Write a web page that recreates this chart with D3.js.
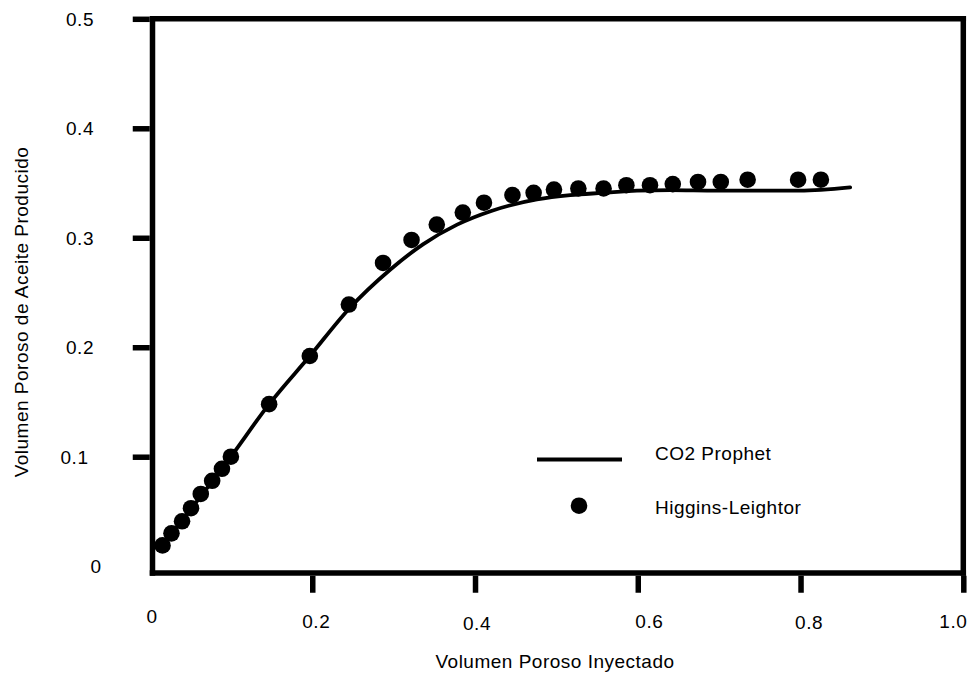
<!DOCTYPE html>
<html>
<head>
<meta charset="utf-8">
<script src="https://cdn.jsdelivr.net/npm/d3@7"></script>
<style>
  html, body { margin: 0; padding: 0; background: #fff; }
  text { font-family: "Liberation Sans", Arial, Helvetica, sans-serif; fill: #000; }
</style>
</head>
<body>
<svg id="chart" width="971" height="673"></svg>
<script>
// ---- data ----
const xTicks = [0, 0.2, 0.4, 0.6, 0.8, 1.0];
const xTickLabels = ["0", "0.2", "0.4", "0.6", "0.8", "1.0"];
const yTicks = [0, 0.1, 0.2, 0.3, 0.4, 0.5];
const yTickLabels = ["0", "0.1", "0.2", "0.3", "0.4", "0.5"];

// Higgins-Leighton (points)
const hlX = [0.016, 0.027, 0.040, 0.051, 0.063, 0.077, 0.089, 0.100, 0.147, 0.197,
             0.245, 0.287, 0.322, 0.353, 0.385, 0.411, 0.446, 0.472, 0.497, 0.527,
             0.558, 0.586, 0.615, 0.643, 0.674, 0.702, 0.735, 0.797, 0.825];
const hlY = [0.019, 0.030, 0.041, 0.053, 0.066, 0.078, 0.089, 0.100, 0.148, 0.192,
             0.239, 0.277, 0.298, 0.312, 0.323, 0.332, 0.339, 0.341, 0.344, 0.345,
             0.345, 0.348, 0.348, 0.349, 0.351, 0.351, 0.353, 0.353, 0.353];

// CO2 Prophet (line)
const cpX = [0.013, 0.100, 0.147, 0.197, 0.245, 0.296, 0.336, 0.378, 0.420, 0.476,
             0.517, 0.557, 0.599, 0.640, 0.697, 0.738, 0.799, 0.861];
const cpY = [0.016, 0.100, 0.148, 0.192, 0.235, 0.271, 0.294, 0.312, 0.3245, 0.335,
             0.339, 0.341, 0.343, 0.3435, 0.343, 0.343, 0.343, 0.346];

const seriesNames = ["CO2 Prophet", "Higgins-Leightor"];
const xTitle = "Volumen Poroso Inyectado";
const yTitle = "Volumen Poroso de Aceite Producido";

// ---- layout ----
const svg = d3.select("#chart");
const x = d3.scaleLinear().domain([0, 1]).range([149.5, 963.3]);
const y = d3.scaleLinear().domain([0, 0.5]).range([566.2, 18.8]);
const frameLeft = 152.5, frameBottom = 573;
const frameW = 5.5;
const tickLen = 17;
const fontSize = 19;
const letterSp = 0.5;
// small label nudges to mimic the original typesetting
const xLabelNudge = [2.5, 4, 2, 11.5, 8.5, -10];
const xLabelBase = [623, 628, 630, 628, 629, 628];
const yLabelNudge = [16, -5.5, 0, 0, 0, 0];

// frame
const frame = svg.append("g").attr("stroke", "#000").attr("stroke-width", frameW).attr("fill", "none");
frame.append("line").attr("x1", frameLeft).attr("x2", frameLeft).attr("y1", y(0.5) - frameW / 2).attr("y2", frameBottom + frameW / 2);
frame.append("line").attr("x1", frameLeft - frameW / 2).attr("x2", x(1) + frameW / 2).attr("y1", frameBottom).attr("y2", frameBottom);
frame.append("line").attr("x1", x(1)).attr("x2", x(1)).attr("y1", y(0.5) - frameW / 2).attr("y2", frameBottom + frameW / 2);
frame.append("line").attr("x1", frameLeft).attr("x2", x(1) + frameW / 2).attr("y1", y(0.5)).attr("y2", y(0.5));

// axes (ticks only)
const xAxis = d3.axisBottom(x).tickValues(xTicks.slice(1)).tickSize(tickLen).tickSizeOuter(0).tickFormat("");
const gx = svg.append("g").attr("transform", `translate(0,${frameBottom + frameW / 2})`).call(xAxis);
gx.select(".domain").remove();
gx.selectAll(".tick line").attr("stroke", "#000").attr("stroke-width", frameW);

const yAxis = d3.axisLeft(y).tickValues(yTicks.slice(1)).tickSize(tickLen).tickSizeOuter(0).tickFormat("");
const gy = svg.append("g").attr("transform", `translate(${frameLeft - frameW / 2},0)`).call(yAxis);
gy.select(".domain").remove();
gy.selectAll(".tick line").attr("stroke", "#000").attr("stroke-width", frameW);

// tick labels
svg.append("g").selectAll("text").data(xTicks).join("text")
  .attr("x", (d, i) => x(d) + xLabelNudge[i])
  .attr("y", (d, i) => xLabelBase[i])
  .attr("text-anchor", "middle")
  .attr("font-size", fontSize).attr("letter-spacing", letterSp)
  .text((d, i) => xTickLabels[i]);

svg.append("g").selectAll("text").data(yTicks).join("text")
  .attr("x", (d, i) => 80 + yLabelNudge[i])
  .attr("y", d => y(d) + 6.8)
  .attr("text-anchor", "middle")
  .attr("font-size", fontSize).attr("letter-spacing", letterSp)
  .text((d, i) => yTickLabels[i]);

// axis titles
svg.append("text").attr("x", 555).attr("y", 667.5).attr("text-anchor", "middle")
  .attr("font-size", fontSize).attr("letter-spacing", letterSp).text(xTitle);
svg.append("text").attr("transform", "translate(28,312) rotate(-90)").attr("text-anchor", "middle")
  .attr("font-size", fontSize).attr("letter-spacing", letterSp).text(yTitle);

// CO2 Prophet line
const lineData = cpX.map((v, i) => [v, cpY[i]]);
const line = d3.line().x(d => x(d[0])).y(d => y(d[1])).curve(d3.curveMonotoneX);
svg.append("path").datum(lineData).attr("d", line)
  .attr("fill", "none").attr("stroke", "#000").attr("stroke-width", 3.8).attr("stroke-linecap", "round");

// Higgins-Leighton points
const ptData = hlX.map((v, i) => [v, hlY[i]]);
svg.append("g").selectAll("circle").data(ptData).join("circle")
  .attr("cx", d => x(d[0])).attr("cy", d => y(d[1])).attr("r", 8.3).attr("fill", "#000");

// legend
const lg = svg.append("g");
lg.append("line").attr("x1", 537).attr("x2", 622).attr("y1", 459.5).attr("y2", 459.5)
  .attr("stroke", "#000").attr("stroke-width", 4);
lg.append("text").attr("x", 655).attr("y", 459.5).attr("font-size", fontSize).attr("letter-spacing", letterSp).text(seriesNames[0]);
lg.append("circle").attr("cx", 579).attr("cy", 505.7).attr("r", 8.3).attr("fill", "#000");
lg.append("text").attr("x", 655).attr("y", 513.5).attr("font-size", fontSize).attr("letter-spacing", letterSp).text(seriesNames[1]);
</script>
</body>
</html>
